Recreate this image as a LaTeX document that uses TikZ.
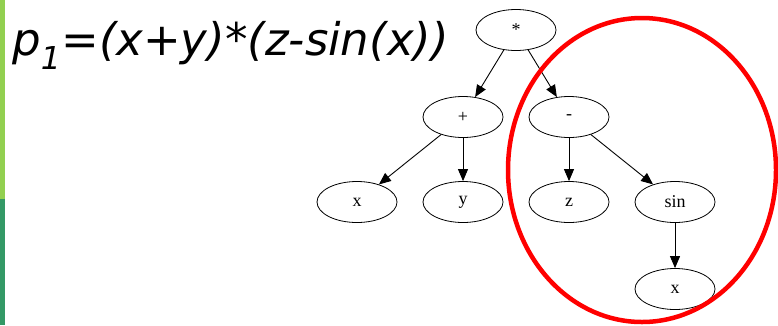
\documentclass[tikz,border=0pt]{standalone}
\usepackage{fontspec}
\usetikzlibrary{shapes.geometric,arrows.meta}
\newfontfamily\formulafont{DejaVu Sans}
\newfontfamily\treefont{Liberation Serif}
\definecolor{barlight}{HTML}{92D050}
\definecolor{bardark}{HTML}{339966}

\begin{document}
\begin{tikzpicture}[x=1pt, y=-1pt,
		treenode/.style={ellipse, draw=black, line width=0.8pt, minimum width=80pt, minimum height=41pt, inner sep=0pt, font=\treefont\fontsize{18}{20}\selectfont},
		treeedge/.style={draw=black, line width=0.9pt, -{Triangle[length=12pt, width=10pt]}}
	]
	\useasboundingbox (0,0) rectangle (778,325);
	\fill[barlight] (0,0) rectangle (5,199);
	\fill[bardark] (0,199) rectangle (5,325);
	\node[anchor=base west, inner sep=0pt, font=\formulafont\itshape\fontsize{45}{50}\selectfont] (formula) at (12,55) {p\textsubscript{1}=(x+y)*(z-sin(x))};
	\node[treenode] (mul) at (516,30) {*};
	\node[treenode] (plus) at (463,117) {+};
	\node[treenode] (minus) at (569,117) {-};
	\node[treenode] (x1) at (357,202) {x};
	\node[treenode] (y) at (463,202) {y};
	\node[treenode] (z) at (569,202) {z};
	\node[treenode] (sin) at (675,202) {sin};
	\node[treenode] (x2) at (675,289) {x};
	\draw[treeedge] (mul) -- (plus);
	\draw[treeedge] (mul) -- (minus);
	\draw[treeedge] (plus) -- (x1);
	\draw[treeedge] (plus) -- (y);
	\draw[treeedge] (minus) -- (z);
	\draw[treeedge] (minus) -- (sin);
	\draw[treeedge] (sin) -- (x2);
	\draw[red, line width=4.5pt] (642,170) ellipse [x radius=134, y radius=152];
\end{tikzpicture}
\end{document}
